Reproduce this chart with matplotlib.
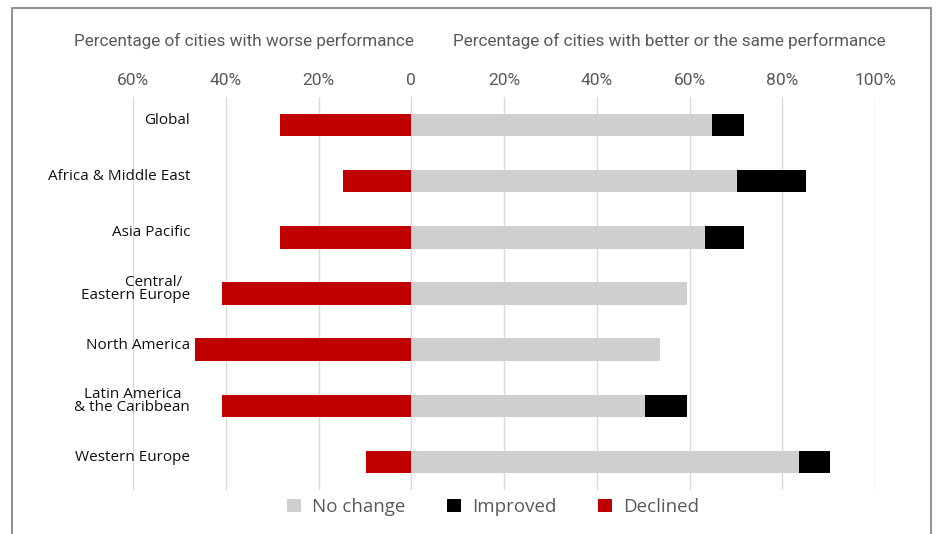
import matplotlib.pyplot as plt
from matplotlib.patches import Rectangle
from matplotlib.ticker import FuncFormatter
from matplotlib.transforms import blended_transform_factory

regions = ["Global", "Africa & Middle East", "Asia Pacific", "Central/  \nEastern Europe",
           "North America", "Latin America  \n& the Caribbean", "Western Europe"]
no_change = [64.8, 70.2, 63.3, 59.4, 53.6, 50.3, 83.7]
improved = [6.9, 15.0, 8.4, 0.0, 0.0, 9.1, 6.6]
declined = [28.4, 14.8, 28.4, 40.8, 46.6, 40.8, 9.8]
ticks = [-60, -40, -20, 0, 20, 40, 60, 80, 100]

grey = "#d0cfcf"
red = "#c00000"
narrow = ["Roboto", "DejaVu Sans"]
label_font = ["Open Sans", "DejaVu Sans"]

fig = plt.figure(figsize=(9.36, 5.34), dpi=100)
ax = fig.add_axes([133/936, 1 - 490/534, (875-133)/936, (490-97)/534])

y = list(range(len(regions)))
h = 0.4
ax.barh(y, no_change, height=h, color=grey, label="No change", zorder=2)
ax.barh(y, improved, left=no_change, height=h, color="black", linewidth=0,
        label="Improved", zorder=2)
ax.barh(y, [-d for d in declined], height=h, color=red, label="Declined", zorder=2)

ax.set_xlim(-60, 100)
ax.set_ylim(len(regions) - 0.5, -0.5)
ax.set_xticks(ticks)
ax.xaxis.set_major_formatter(FuncFormatter(lambda v, p: "0" if v == 0 else "%d%%" % abs(v)))
ax.xaxis.tick_top()
ax.tick_params(axis="x", length=0, pad=6.5, labelsize=12.5, labelcolor="#595959")
for t in ax.get_xticklabels():
    t.set_family(narrow)
ax.grid(axis="x", color="#d9d9d9", linewidth=1, zorder=0)

ax.set_yticks([])
tr = blended_transform_factory(fig.transFigure, ax.transData)
for i, name in enumerate(regions):
    ax.text(190/936, i - 0.08, name, transform=tr, ha="right", va="center", fontsize=11,
            color="#111111", family=label_font, linespacing=0.8)

for s in ax.spines.values():
    s.set_visible(False)

fig.text(244/936, 1 - 41/534, "Percentage of cities with worse performance", ha="center", va="center",
         fontsize=12.3, color="#595959", family=narrow)
fig.text(669/936, 1 - 41/534, "Percentage of cities with better or the same performance", ha="center",
         va="center", fontsize=12.3, color="#595959", family=narrow)

handles, labels = ax.get_legend_handles_labels()
fig.legend(handles, labels, loc="center", bbox_to_anchor=(493/936, 1 - 507/534), ncol=3, frameon=False,
           prop={"family": label_font, "size": 13.5}, labelcolor="#595959",
           handlelength=0.75, handleheight=0.75, handletextpad=0.6, columnspacing=2.2)

fig.patches.append(Rectangle((12/936, -0.1), (931-12)/936, 1.1 - 8/534, transform=fig.transFigure,
                             fill=False, edgecolor="#7f7f7f", linewidth=1.2))

fig.savefig("out.png", dpi=100)
